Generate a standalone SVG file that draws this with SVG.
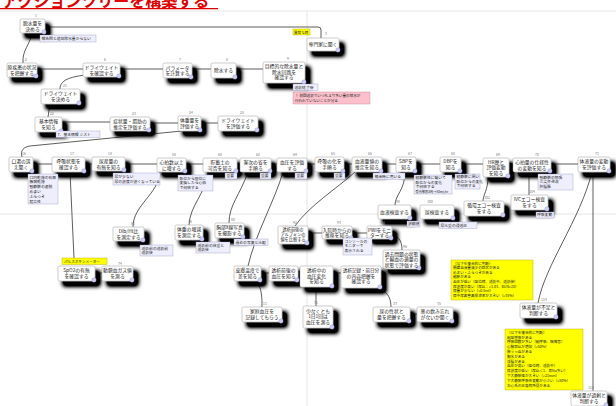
<svg xmlns="http://www.w3.org/2000/svg" width="616" height="406" viewBox="0 0 616 406">
<defs>
<filter id="sh" x="-30%" y="-30%" width="190%" height="220%">
<feGaussianBlur in="SourceAlpha" stdDeviation="2.2"/>
<feOffset dx="5" dy="5"/>
<feComponentTransfer result="o"><feFuncA type="linear" slope="1.7"/></feComponentTransfer>
<feMerge><feMergeNode in="o"/><feMergeNode in="SourceGraphic"/></feMerge>
</filter>
</defs>
<style>
text{font-family:"Noto Sans CJK JP","Noto Sans CJK SC",sans-serif;fill:#222}
.n rect{fill:#fff;stroke:#999;stroke-width:0.5;filter:url(#sh)}
.n text{font-size:4.8px;text-anchor:middle}
.n circle{fill:#cfcff5;stroke:#8c8cd2;stroke-width:0.4}
.num{font-size:3.4px;fill:#777;text-anchor:middle}
.l rect{fill:#eeeefc;stroke:#9a9ac8;stroke-width:0.4}
.l text{font-size:3.8px}
.pk rect{fill:#fbc0cc;stroke:#d08090;stroke-width:0.4}
.y rect{fill:#ffff00;stroke:#b0a000;stroke-width:0.4}
.y text{font-size:3.6px}
.con path{fill:none;stroke:#333;stroke-width:0.8}
.pg{stroke:#e0e0e0;stroke-width:0.8}
</style>
<rect width="616" height="406" fill="#fff"/>
<line class="pg" x1="0" y1="11" x2="616" y2="11"/>
<line class="pg" x1="307" y1="11" x2="307" y2="406"/>
<line class="pg" x1="0" y1="214" x2="616" y2="214"/>
<g id="title">
<text x="2" y="7" style="font-size:16px;font-weight:bold;fill:#e00000">アクションツリーを構築する</text>
<line x1="0" y1="8.6" x2="218" y2="8.6" stroke="#e00000" stroke-width="1.3"/>
</g>
<g class="con" id="connectors">
<path d="M32,33 C30,45 22,50 23,63"/>
<path d="M45,27 L318,27 Q321,27 321,30 L321,38"/>
<path d="M37,69 L263,69"/>
<path d="M85,75 C70,77 60,80 60,89"/>
<path d="M50,104 L48,117"/>
<path d="M62,122 L110,122 M150,123 L178,123 M201,123 L218,123"/>
<path d="M22,157 C20,150 24,147 30,146 L182,131"/>
<path d="M33,164 L578,164"/>
<path d="M70,172 L74,258"/>
<path d="M95,273 L102,273"/>
<path d="M160,172 C158,195 133,205 133,227"/>
<path d="M208,172 C205,195 190,205 189,225"/>
<path d="M248,172 C240,195 229,205 229,223"/>
<path d="M283,172 C275,200 255,235 248,266"/>
<path d="M355,172 C335,190 310,205 295,226"/>
<path d="M405,172 C405,190 395,195 395,205"/>
<path d="M488,177 C488,190 483,195 483,201"/>
<path d="M529,172 L529,195"/>
<path d="M308,233 L322,233 M352,233 L367,233"/>
<path d="M392,235 C398,236 402,240 402,250"/>
<path d="M261,273 L269,273 M298,273 L300,273 M333,273 L341,273"/>
<path d="M257,281 C262,290 262,298 262,307"/>
<path d="M316,287 L316,306"/>
<path d="M375,288 C385,290 391,295 391,307"/>
<path d="M410,314 L417,314"/>
<path d="M592,172 C580,220 545,265 538,303"/>
<path d="M593,172 L593,391"/>
</g>

<g id="n1" class="n"><rect x="20" y="19" width="25" height="14" rx="1.5"/><circle cx="44" cy="32" r="2.2"/><text x="32.5" y="25">脱水量を</text><text x="32.5" y="30.5">決める</text></g>
<text class="num" x="36" y="17">1</text>
<g id="n2" class="n"><rect x="7" y="63" width="30" height="14" rx="1.5"/><circle cx="36" cy="76" r="2.2"/><text x="22" y="69">原疾患の状況</text><text x="22" y="74.5">を把握する</text></g>
<text class="num" x="26" y="61">2</text>
<g id="n6" class="n"><rect x="83" y="63" width="37" height="14" rx="1.5"/><circle cx="119" cy="76" r="2.2"/><text x="101.5" y="69">ドライウェイト</text><text x="101.5" y="74.5">を確認する</text></g>
<text class="num" x="105" y="61">6</text>
<g id="n7" class="n"><rect x="163" y="63" width="29" height="15" rx="1.5"/><circle cx="191" cy="77" r="2.2"/><text x="177.5" y="69.5">パラメータ</text><text x="177.5" y="75">を計算する</text></g>
<text class="num" x="180" y="61">7</text>
<g id="n8" class="n"><rect x="211" y="63" width="25" height="15" rx="1.5"/><circle cx="235" cy="77" r="2.2"/><text x="223.5" y="72">除水する</text></g>
<text class="num" x="227" y="61">8</text>
<g id="n9" class="n"><rect x="263" y="62" width="42" height="21" rx="1.5"/><circle cx="304" cy="82" r="2.2"/><text x="284" y="68">目標的な除水量と</text><text x="284" y="73.5">除水回路を</text><text x="284" y="79">確認する</text></g>
<text class="num" x="288" y="59.5">9</text>
<g id="n3" class="n"><rect x="307" y="38" width="32" height="13" rx="1.5"/><circle cx="338" cy="50" r="2.2"/><text x="323" y="46">専門家に聞く</text></g>
<text class="num" x="326" y="35">3</text>
<g id="y-ijo" class="y"><rect x="293" y="29" width="17" height="6"/><text x="294" y="33.5">異常な時</text></g>

<g id="n21" class="n"><rect x="41" y="89" width="39" height="15" rx="1.5"/><circle cx="79" cy="103" r="2.2"/><text x="60.5" y="95">ドライウェイト</text><text x="60.5" y="100.5">を決める</text></g>
<text class="num" x="65" y="87">21</text>
<g id="n22" class="n"><rect x="35" y="117" width="27" height="15" rx="1.5"/><circle cx="61" cy="131" r="2.2"/><text x="48.5" y="123">基本情報</text><text x="48.5" y="128.5">を知る</text></g>
<text class="num" x="52" y="115">22</text>
<g id="n23" class="n"><rect x="110" y="117" width="40" height="14" rx="1.5"/><circle cx="149" cy="130" r="2.2"/><text x="130" y="123">症状量・脂肪の</text><text x="130" y="128.5">推定を評価する</text></g>
<text class="num" x="134" y="115">23</text>
<g id="n24" class="n"><rect x="178" y="116" width="23" height="15" rx="1.5"/><circle cx="200" cy="130" r="2.2"/><text x="189.5" y="122">体重量を</text><text x="189.5" y="127.5">評価する</text></g>
<text class="num" x="191" y="114">24</text>
<g id="n25" class="n"><rect x="218" y="116" width="40" height="15" rx="1.5"/><circle cx="257" cy="130" r="2.2"/><text x="238" y="122">ドライウェイト</text><text x="238" y="127.5">を評価する</text></g>
<text class="num" x="242" y="114">25</text>

<g id="n16" class="n"><rect x="9" y="157" width="24" height="15" rx="1.5"/><circle cx="32" cy="171" r="2.2"/><text x="21" y="163">口渇の訴</text><text x="21" y="168.5">え聞く</text></g>
<text class="num" x="24" y="155">16</text>
<g id="n17" class="n"><rect x="52" y="157" width="33" height="15" rx="1.5"/><circle cx="84" cy="171" r="2.2"/><text x="68.5" y="163">呼吸状態を</text><text x="68.5" y="168.5">確認する</text></g>
<text class="num" x="72" y="155">17</text>
<g id="n18" class="n"><rect x="92" y="157" width="33" height="14" rx="1.5"/><circle cx="124" cy="170" r="2.2"/><text x="108.5" y="163">尿産量の</text><text x="108.5" y="168.5">有無を知る</text></g>
<text class="num" x="110" y="155">18</text>
<g id="n19" class="n"><rect x="157" y="158" width="29" height="14" rx="1.5"/><circle cx="185" cy="171" r="2.2"/><text x="171.5" y="164">心拍数以上</text><text x="171.5" y="169.5">に増する</text></g>
<text class="num" x="174" y="156">58</text>
<g id="n20" class="n"><rect x="203" y="158" width="34" height="14" rx="1.5"/><circle cx="236" cy="171" r="2.2"/><text x="220" y="164">貯蓄土の</text><text x="220" y="169.5">可否を知る</text></g>
<text class="num" x="220" y="156">60</text>
<g id="n62" class="n"><rect x="240" y="158" width="31" height="14" rx="1.5"/><circle cx="270" cy="171" r="2.2"/><text x="255.5" y="164">客次の省を</text><text x="255.5" y="169.5">手順る</text></g>
<text class="num" x="258" y="156">62</text>
<g id="n64" class="n"><rect x="277" y="158" width="30" height="14" rx="1.5"/><circle cx="306" cy="171" r="2.2"/><text x="292" y="164">血圧を評価</text><text x="292" y="169.5">する</text></g>
<text class="num" x="295" y="156">64</text>
<g id="n65" class="n"><rect x="315" y="157" width="29" height="15" rx="1.5"/><circle cx="343" cy="171" r="2.2"/><text x="329.5" y="163">呼吸の化を</text><text x="329.5" y="168.5">手順る</text></g>
<text class="num" x="333" y="155">65</text>
<g id="n66" class="n"><rect x="352" y="157" width="30" height="15" rx="1.5"/><circle cx="381" cy="171" r="2.2"/><text x="367" y="163">血液量値の</text><text x="367" y="168.5">推定を知る</text></g>
<text class="num" x="370" y="155">66</text>
<g id="n67" class="n"><rect x="396" y="157" width="20" height="15" rx="1.5"/><circle cx="415" cy="171" r="2.2"/><text x="406" y="163">SBPを</text><text x="406" y="168.5">知る</text></g>
<text class="num" x="410" y="155">67</text>
<g id="n68" class="n"><rect x="440" y="157" width="21" height="15" rx="1.5"/><circle cx="460" cy="171" r="2.2"/><text x="450.5" y="163">DBPを</text><text x="450.5" y="168.5">知る</text></g>
<text class="num" x="453" y="155">68</text>
<g id="n69" class="n"><rect x="483" y="158" width="26" height="19" rx="1.5"/><circle cx="508" cy="176" r="2.2"/><text x="496" y="163.5">HR歴と</text><text x="496" y="169">評価変動</text><text x="496" y="174.5">を知る</text></g>
<text class="num" x="498" y="156">69</text>
<g id="n70" class="n"><rect x="513" y="158" width="38" height="14" rx="1.5"/><circle cx="550" cy="171" r="2.2"/><text x="532" y="164">心拍量の仕様性</text><text x="532" y="169.5">の変動を知る</text></g>
<text class="num" x="537" y="156">70</text>
<g id="n71" class="n"><rect x="578" y="157" width="32" height="15" rx="1.5"/><circle cx="609" cy="171" r="2.2"/><text x="594" y="163">体液量の変動</text><text x="594" y="168.5">を評価する</text></g>
<text class="num" x="597" y="155">71</text>

<g id="n98" class="n"><rect x="378" y="205" width="33" height="14" rx="1.5"/><circle cx="410" cy="218" r="2.2"/><text x="394.5" y="213.5">血液検査する</text></g>
<text class="num" x="398" y="203">98</text>
<g id="n100" class="n"><rect x="420" y="205" width="34" height="14" rx="1.5"/><circle cx="453" cy="218" r="2.2"/><text x="437" y="213.5">尿検査する</text></g>
<text class="num" x="430" y="203">100</text>
<g id="n102" class="n"><rect x="464" y="201" width="40" height="15" rx="1.5"/><circle cx="503" cy="215" r="2.2"/><text x="484" y="207">循環エコー検査</text><text x="484" y="212.5">をする</text></g>
<text class="num" x="487" y="199">102</text>
<g id="n104" class="n"><rect x="511" y="195" width="37" height="15" rx="1.5"/><circle cx="547" cy="209" r="2.2"/><text x="529.5" y="201">IVCエコー検査</text><text x="529.5" y="206.5">をする</text></g>
<text class="num" x="532" y="193">104</text>

<g id="n81" class="n"><rect x="113" y="227" width="31" height="14" rx="1.5"/><circle cx="143" cy="240" r="2.2"/><text x="128.5" y="233">Dlb/Ht比</text><text x="128.5" y="238.5">を測定する</text></g>
<text class="num" x="133" y="225">81</text>
<g id="n76" class="n"><rect x="175" y="225" width="28" height="15" rx="1.5"/><circle cx="202" cy="239" r="2.2"/><text x="189" y="231">体重の増減</text><text x="189" y="236.5">を測定する</text></g>
<text class="num" x="190" y="223">76</text>
<g id="n80" class="n"><rect x="215" y="223" width="29" height="15" rx="1.5"/><circle cx="243" cy="237" r="2.2"/><text x="229.5" y="229">胸部X線写真</text><text x="229.5" y="234.5">を撮影する</text></g>
<text class="num" x="233" y="221">80</text>
<g id="n92" class="n"><rect x="278" y="226" width="30" height="18" rx="1.5"/><circle cx="307" cy="243" r="2.2"/><text x="293" y="231" style="font-size:4.2px">透析前後の</text><text x="293" y="236.2" style="font-size:4.2px">アルブミンの</text><text x="293" y="241.4" style="font-size:4.2px">値を比較する</text></g>
<text class="num" x="295" y="224">92</text>
<g id="n93" class="n"><rect x="322" y="226" width="30" height="13" rx="1.5"/><circle cx="351" cy="238" r="2.2"/><text x="337" y="231.5">入院時からの</text><text x="337" y="237">推移を知る</text></g>
<text class="num" x="339" y="224">93</text>
<g id="n94" class="n"><rect x="367" y="226" width="25" height="13" rx="1.5"/><circle cx="391" cy="238" r="2.2"/><text x="379.5" y="231.5">PWIをモニ</text><text x="379.5" y="237">ターする</text></g>
<text class="num" x="383" y="224">94</text>
<g id="n96" class="n"><rect x="383" y="250" width="37" height="19" rx="1.5"/><circle cx="419" cy="268" r="2.2"/><text x="401.5" y="255.5">過去問題の状態</text><text x="401.5" y="261">と輸血の適量の</text><text x="401.5" y="266.5">状態で評価する</text></g>
<text class="num" x="405" y="248">96</text>

<g id="y-po" class="y"><rect x="62" y="258" width="45" height="6.5"/><text x="64" y="262.8">パルスオキシメーター</text></g>
<text class="num" x="120" y="265">74</text>
<g id="n75" class="n"><rect x="58" y="266" width="37" height="15" rx="1.5"/><circle cx="94" cy="280" r="2.2"/><text x="76.5" y="272">SpO2の有無</text><text x="76.5" y="277.5">を確認する</text></g>
<g id="n77" class="n"><rect x="102" y="266" width="31" height="15" rx="1.5"/><circle cx="132" cy="280" r="2.2"/><text x="117.5" y="272">動脈血ガス値</text><text x="117.5" y="277.5">を測る</text></g>

<g id="n84" class="n"><rect x="234" y="266" width="27" height="15" rx="1.5"/><circle cx="260" cy="280" r="2.2"/><text x="247.5" y="272">皮膚温度で</text><text x="247.5" y="277.5">差を知る</text></g>
<g id="n85" class="n"><rect x="269" y="266" width="29" height="15" rx="1.5"/><circle cx="297" cy="280" r="2.2"/><text x="283.5" y="272">透析前後の</text><text x="283.5" y="277.5">血圧を知る</text></g>
<g id="n86" class="n"><rect x="300" y="266" width="33" height="21" rx="1.5"/><circle cx="332" cy="286" r="2.2"/><text x="316.5" y="272">透析中の</text><text x="316.5" y="277.5">血圧変化</text><text x="316.5" y="283">を知る</text></g>
<g id="n87" class="n"><rect x="341" y="266" width="40" height="22" rx="1.5"/><circle cx="380" cy="287" r="2.2"/><text x="361" y="272" style="font-size:4.5px">透析記録・前日分</text><text x="361" y="277.5">の内容把握を</text><text x="361" y="283">確認する</text></g>
<g id="n11" class="n"><rect x="242" y="307" width="40" height="15" rx="1.5"/><circle cx="281" cy="321" r="2.2"/><text x="262" y="313">家庭血圧を</text><text x="262" y="318.5">記録してもらう</text></g>
<text class="num" x="265" y="305">11</text>
<g id="n31" class="n"><rect x="303" y="306" width="30" height="22" rx="1.5"/><circle cx="332" cy="327" r="2.2"/><text x="318" y="312.5">少なくとも</text><text x="318" y="318">1日1回は</text><text x="318" y="323.5">血圧を測る</text></g>
<text class="num" x="316" y="304">31</text>
<g id="n33" class="n"><rect x="373" y="307" width="37" height="15" rx="1.5"/><circle cx="409" cy="321" r="2.2"/><text x="391.5" y="313">尿の性状と</text><text x="391.5" y="318.5">量を把握する</text></g>
<text class="num" x="395" y="305">33</text>
<g id="n35" class="n"><rect x="417" y="307" width="36" height="15" rx="1.5"/><circle cx="452" cy="321" r="2.2"/><text x="435" y="313">薬の飲み忘れ</text><text x="435" y="318.5">がないか聞く</text></g>
<text class="num" x="439" y="305">35</text>
<g id="n114" class="n"><rect x="520" y="303" width="37" height="15" rx="1.5"/><circle cx="556" cy="317" r="2.2"/><text x="538.5" y="309">体液量が不足と</text><text x="538.5" y="314.5">判断する</text></g>
<text class="num" x="544" y="301">114</text>
<g id="n116" class="n"><rect x="571" y="391" width="36" height="15" rx="1.5"/><circle cx="606" cy="405" r="2.2"/><text x="589" y="397">体液量が過剰と</text><text x="589" y="402.5">判断する</text></g>
<text class="num" x="591" y="389">116</text>

<g id="notes">
<g class="l"><rect x="40" y="35" width="56" height="7"/><text x="41.5" y="39.8">報告回と追加除水量からない</text></g>
<g class="l"><rect x="293" y="84" width="25" height="6.5"/><text x="294.5" y="88.6">透析終了後</text></g>
<g class="pk"><rect x="293" y="92" width="77" height="12"/><text x="295" y="97" style="font-size:3.6px">！ 前回透析でいつもより多い量の除水が</text><text x="295" y="102" style="font-size:3.6px">行われていないことが分る</text></g>
<g class="l"><rect x="56" y="131" width="44" height="6.5"/><text x="57.5" y="135.6">7．基本情報 ミスト</text></g>
<g class="l"><rect x="28" y="174" width="30" height="30"/><text x="29.5" y="178.5">口内乾燥の有無</text><text x="29.5" y="183.3">腋窩乾燥</text><text x="29.5" y="188.1">頸静脈の虚脱</text><text x="29.5" y="192.9">めまい</text><text x="29.5" y="197.7">ふらつき</text><text x="29.5" y="202.5">起立性</text></g>
<g class="l"><rect x="113" y="173" width="47" height="12"/><text x="114.5" y="177.8">尿が少ない</text><text x="114.5" y="183">尿の濃度が濃くなっている</text></g>
<g class="l"><rect x="178" y="175" width="35" height="16"/><text x="179.5" y="179.5">臥位から座位に</text><text x="179.5" y="184.3">変換したら心拍</text><text x="179.5" y="189.1">で何倍する</text></g>
<g class="l"><rect x="225" y="173" width="12" height="6"/><text x="226.5" y="177.4">重要</text></g>
<g class="l"><rect x="260" y="173" width="11" height="6"/><text x="261" y="177.4">重要</text></g>
<g class="l"><rect x="295" y="173" width="12" height="6"/><text x="296.5" y="177.4">重要</text></g>
<g class="l"><rect x="334" y="173" width="11" height="6"/><text x="335" y="177.4">重要</text></g>
<g class="l"><rect x="373" y="173" width="32" height="6.5"/><text x="374.5" y="177.6">補液時に用いる</text></g>
<g class="l"><rect x="414" y="175" width="38" height="19"/><text x="415.5" y="179.3">経静脈性に疑いて</text><text x="415.5" y="183.8">臥位からの変化</text><text x="415.5" y="188.3">で何倍する</text><text x="415.5" y="192.8" style="font-size:3.2px">受光被剤3周→50ml/hr</text></g>
<g class="l"><rect x="455" y="174" width="25" height="15"/><text x="456.5" y="178.4">経静脈に関い</text><text x="456.5" y="182.9">臥位からの変化</text><text x="456.5" y="187.4">で何倍する</text></g>
<g class="l"><rect x="538" y="174" width="35" height="16"/><text x="539.5" y="178.5">頸静脈の怒張</text><text x="539.5" y="183.3">三尖弁逆流</text><text x="539.5" y="188.1">肝腫脹</text></g>
<g class="l"><rect x="407" y="221" width="13" height="6"/><text x="408" y="225.4">濃縮値</text></g>
<g class="l"><rect x="439" y="222" width="38" height="6.5"/><text x="440.5" y="226.6">尿比重の浸透圧</text></g>
<g class="l"><rect x="536" y="212" width="18" height="6"/><text x="537" y="216.4">呼吸変動</text></g>
<g class="l"><rect x="140" y="245" width="33" height="11"/><text x="141.5" y="249.5">透析前の透析前</text><text x="141.5" y="254.3">透析後</text></g>
<g class="l"><rect x="196" y="242" width="34" height="11"/><text x="197.5" y="246.5">透析前の体重と</text><text x="197.5" y="251.3">透析後</text></g>
<g class="l"><rect x="234" y="239" width="34" height="6.5"/><text x="235.5" y="243.6">過去の写真と比較</text></g>
<g class="l"><rect x="343" y="238" width="29" height="17"/><text x="344.5" y="242.5">コンソールの</text><text x="344.5" y="247.3">モニターで</text><text x="344.5" y="252.1">表示される</text></g>
</g>

<g id="judge1" class="y"><rect x="451" y="260" width="82" height="40"/>
<text x="453" y="264.5">（以下を複合的に判断）</text>
<text x="453" y="269.1">循環血液量減少の症状がある</text>
<text x="453" y="273.7">めまい・ふらつきがある</text>
<text x="453" y="278.3">頻脈がある</text>
<text x="453" y="282.9">血圧が低い（座位時、透析中、透析後）</text>
<text x="453" y="287.5">尿濃度が高い（尿比：&gt;1.03、BUN&gt;20）</text>
<text x="453" y="292.1">尿量が少ない（&lt;0.5ml）</text>
<text x="453" y="296.7">尿中尿素窒素排泄率が大きい（&gt;35%）</text>
</g>
<g id="judge2" class="y"><rect x="505" y="329" width="78" height="61"/>
<text x="507" y="333.8">（以下を複合的に判断）</text>
<text x="507" y="338.6">起座呼吸がある</text>
<text x="507" y="343.4">呼吸回数が多い（頻呼吸、喘鳴音）</text>
<text x="507" y="348.2">心胸郭比が増加（&gt;50%）</text>
<text x="507" y="353">肺うっ血がある</text>
<text x="507" y="357.8">胸水がある</text>
<text x="507" y="362.6">浮腫がある</text>
<text x="507" y="367.4">血圧が高い（座位時、透析中）</text>
<text x="507" y="372.2">尿濃度が低い（尿比＜1、尿Na多い）</text>
<text x="507" y="377">下大静脈径が大きい（&gt;21mm）</text>
<text x="507" y="381.8">下大静脈呼吸性変動が小さい（&lt;50%）</text>
<text x="507" y="386.6">左心系の圧負荷所見がある</text>
</g>
</svg>
